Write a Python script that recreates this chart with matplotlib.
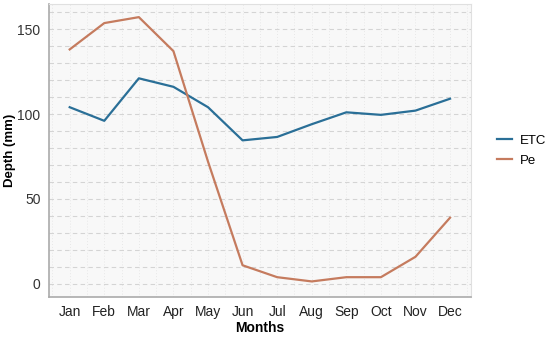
import matplotlib
matplotlib.use('Agg')
import matplotlib.pyplot as plt
from matplotlib.ticker import MultipleLocator
import numpy as np

plt.rcParams['font.family'] = ['Liberation Sans', 'DejaVu Sans']

months = ['Jan', 'Feb', 'Mar', 'Apr', 'May', 'Jun',
          'Jul', 'Aug', 'Sep', 'Oct', 'Nov', 'Dec']
etc = [104, 96, 121, 116, 104, 84.5, 86.5, 94, 101, 99.5, 102, 109]
pe = [138, 153.5, 157, 137, 72, 11, 4, 1.5, 4, 4, 16, 39]

x = np.arange(len(months))

fig = plt.figure(figsize=(5.5, 3.37), dpi=100)
ax = fig.add_axes([0.089, 0.119, 0.767, 0.869])
ax.set_facecolor('#F8F8F8')

ax.plot(x, etc, color='#2A6F97', lw=1.6, label='ETC')
ax.plot(x, pe, color='#C57B5E', lw=1.6, label='Pe')

ax.set_xlim(-0.6, 11.6)
ax.set_ylim(-7.6, 164.7)
ax.set_xticks(x)
ax.set_xticklabels(months)
ax.xaxis.set_minor_locator(MultipleLocator(0.5))
ax.yaxis.set_major_locator(MultipleLocator(50))
ax.yaxis.set_minor_locator(MultipleLocator(10))

ax.grid(which='both', axis='y', color='#D4D4D4', ls=(0, (4, 3)), lw=0.8)
ax.grid(which='both', axis='x', color='#E8E8E8', ls=(0, (1, 2)), lw=0.7)
ax.set_axisbelow(True)

ax.tick_params(which='both', length=0, labelsize=10, colors='#333333', pad=6)
ax.tick_params(axis='x', labelcolor='#222222')
for s in ['top', 'right']:
    ax.spines[s].set_color('#E0E0E0')
for s in ['left', 'bottom']:
    ax.spines[s].set_color('#AAAAAA')
    ax.spines[s].set_linewidth(1.2)

ax.set_xlabel('Months', fontweight='bold', fontsize=10, labelpad=1)
ax.set_ylabel('Depth (mm)', fontweight='bold', fontsize=9.5, labelpad=1)

ax.legend(loc='center left', bbox_to_anchor=(1.035, 0.5), frameon=False,
          fontsize=9.5, handlelength=1.1, handletextpad=0.6, labelspacing=0.6)

fig.savefig('out.png', dpi=100)
